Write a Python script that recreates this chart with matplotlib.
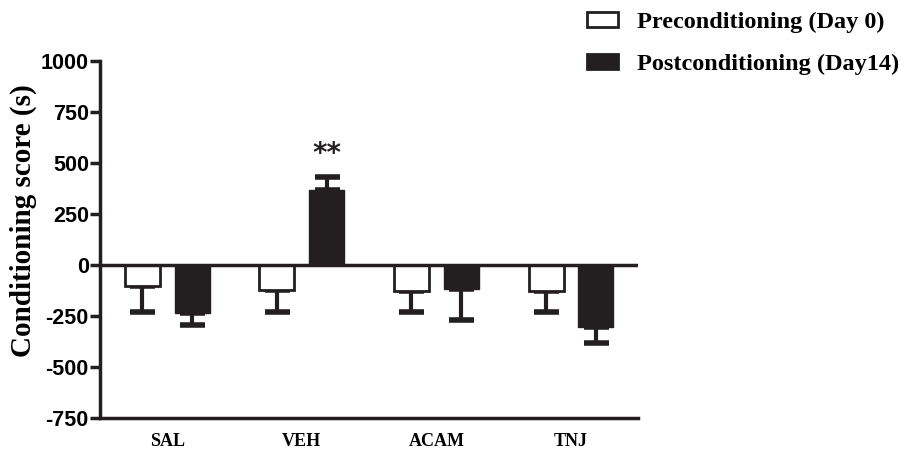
import matplotlib
matplotlib.use('Agg')
import matplotlib.pyplot as plt
import numpy as np
from matplotlib.patches import Patch

groups = ['SAL', 'VEH', 'ACAM', 'TNJ']
pre_mean = [-103, -122, -127, -127]
pre_err = [127, 108, 103, 103]
post_mean = [-235, 368, -118, -303]
post_err = [59, 63, 152, 79]
series_names = ['Preconditioning (Day 0)', 'Postconditioning (Day14)']
yticks = [-750, -500, -250, 0, 250, 500, 750, 1000]

x = np.arange(len(groups))
w = 0.26
off = 0.185

fig = plt.figure(figsize=(9.17, 4.54), dpi=100)
ax = fig.add_axes([0.109, 0.079, 0.587, 0.787])

ax.bar(x - off, pre_mean, w, color='white', edgecolor='#231f20', linewidth=2, zorder=3)
ax.bar(x + off, post_mean, w, color='#231f20', edgecolor='#231f20', linewidth=1, zorder=3)

# one-sided error bars, pointing away from zero
for xs, m, e in [(x - off, pre_mean, pre_err), (x + off, post_mean, post_err)]:
    lower = [ee if mm < 0 else 0 for mm, ee in zip(m, e)]
    upper = [ee if mm >= 0 else 0 for mm, ee in zip(m, e)]
    ax.errorbar(xs, m, yerr=[lower, upper], fmt='none', ecolor='#231f20',
                elinewidth=3, capsize=9, capthick=4, zorder=2)

ax.axhline(0, color='#231f20', linewidth=2.5, zorder=4)
ax.text(x[1] + off, post_mean[1] + post_err[1] + 45, '**', ha='center', va='bottom',
        fontsize=20, fontweight='bold', color='#231f20')

ax.set_xlim(-0.5, 3.5)
ax.set_ylim(-750, 1000)
ax.set_yticks(yticks)
ax.set_yticklabels([str(t) for t in yticks], fontfamily='Liberation Sans',
                   fontweight='bold', fontsize=15.5)
ax.set_xticks(x)
ax.set_xticklabels(groups, fontfamily='Liberation Serif', fontweight='bold', fontsize=13)
ax.tick_params(axis='x', length=0, pad=11)
ax.tick_params(axis='y', length=7, width=2.5, pad=1, color='#231f20')
for s in ['top', 'right']:
    ax.spines[s].set_visible(False)
for s in ['left', 'bottom']:
    ax.spines[s].set_linewidth(2.5)
    ax.spines[s].set_color('#231f20')

ax.set_ylabel('Conditioning score (s)', fontfamily='Liberation Serif', fontweight='bold',
              fontsize=21, va='center')
ax.yaxis.set_label_coords(-0.143, 0.552)

handles = [Patch(facecolor='white', edgecolor='#231f20', linewidth=2),
           Patch(facecolor='#231f20', edgecolor='#231f20', linewidth=2)]
fig.legend(handles, series_names, loc='upper left', bbox_to_anchor=(0.64, 0.974),
           frameon=False, prop={'family': 'Liberation Serif', 'weight': 'bold', 'size': 17.5},
           handlelength=1.3, handleheight=0.6, labelspacing=0.85, handletextpad=0.75,
           borderpad=0, borderaxespad=0)

fig.savefig('out.png', dpi=100)
